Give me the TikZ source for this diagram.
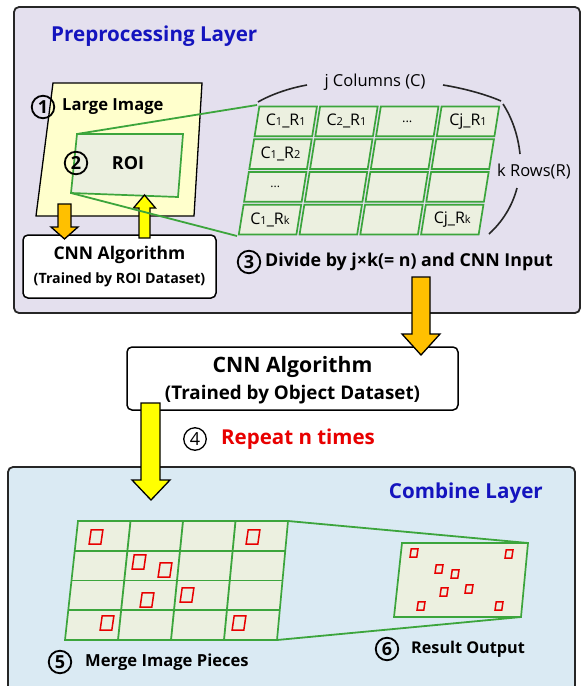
\documentclass[tikz,border=0pt]{standalone}
\usepackage{fontspec}
\setmainfont{Open Sans}
\definecolor{lav}{RGB}{228,224,238}
\definecolor{lblue}{RGB}{218,234,243}
\definecolor{ttl}{RGB}{20,20,190}
\definecolor{yell}{RGB}{255,255,204}
\definecolor{grn}{RGB}{60,165,60}
\definecolor{cellf}{RGB}{236,240,224}
\definecolor{orng}{RGB}{255,192,0}
\definecolor{yarr}{RGB}{255,255,0}
\definecolor{redc}{RGB}{232,0,0}
\newcommand{\fsz}[1]{\fontsize{#1}{#1}\selectfont}
\newcommand{\sm}[1]{{\fsz{11}#1}}
\newcommand{\rsq}[3]{\draw[redbox] ({#1-#3*0.45+#3*0.08},{#2-#3*0.55}) -- ({#1+#3*0.45+#3*0.08},{#2-#3*0.55}) -- ({#1+#3*0.45-#3*0.08},{#2+#3*0.55}) -- ({#1-#3*0.45-#3*0.08},{#2+#3*0.55}) -- cycle;}
\tikzset{
  panel/.style={draw=black!85, line width=1.8pt, rounded corners=5pt},
  cellst/.style={draw=grn, fill=cellf, line width=1.7pt},
  gline/.style={draw=grn, line width=1.8pt},
  gl/.style={font=\fsz{16}, inner sep=0pt},
  cnum/.style={circle, draw, line width=1.8pt, inner sep=0pt, minimum size=22.5pt, font=\bfseries\fsz{18}},
  cnumthin/.style={circle, draw, line width=1.3pt, inner sep=0pt, minimum size=22.5pt, font=\fsz{18}},
  btxt/.style={font=\bfseries\fsz{16.6}, inner sep=0pt},
  cbox/.style={draw=black, line width=1.5pt, fill=white, rounded corners=5pt, align=center, inner sep=0pt},
  barr/.style={draw=black, line width=1.3pt},
  redbox/.style={draw=redc, line width=1.5pt},
  brace/.style={draw=black!85, line width=1.6pt},
}
\begin{document}
\begin{tikzpicture}[x=1pt,y=-1pt]
\useasboundingbox (0,0) rectangle (581,686);
\fill[white] (0,0) rectangle (581,686);
\begin{scope}
\clip (0,0) rectangle (581,686);
% panels
\draw[panel, fill=lav] (14,7) rectangle (580,313);
\draw[panel, fill=lblue] (8,467) rectangle (575,695);
\end{scope}
\node[anchor=west, text=ttl, font=\bfseries\fsz{20.6}, inner sep=0pt] (title1) at (51,36) {Preprocessing Layer};
\node[anchor=east, text=ttl, font=\bfseries\fsz{20.6}, inner sep=0pt] (title2) at (543,493) {Combine Layer};

% large image and ROI
\draw[barr, fill=yell] (53,83) -- (202,83) -- (194,216) -- (36,216) -- cycle;
\draw[cellst] (77,134) -- (183,134) -- (178,197) -- (71,193) -- cycle;
\node[cnum] (n1) at (43,107) {1};
\node[btxt, anchor=west] (large) at (62,107) {Large Image};
\node[cnum] (n2) at (76,163) {2};
\node[btxt, font=\bfseries\fsz{18}] (roi) at (128,163) {ROI};

% CNN box 1
\node[cbox, minimum width=193pt, minimum height=63pt] (box1) at (119.5,266.5) {};
\node[btxt, font=\bfseries\fsz{17.5}] (box1a) at (119.5,255) {CNN Algorithm};
\node[font=\bfseries\fsz{14.2}, inner sep=0pt] (box1b) at (119.5,280) {(Trained by ROI Dataset)};
% small arrows
\draw[barr, fill=orng] (58,204) -- (71,204) -- (71,227) -- (78,227) -- (64.5,239) -- (51,227) -- (58,227) -- cycle;
\draw[barr, fill=yarr] (139,238) -- (150,238) -- (150,208) -- (155.5,208) -- (144.5,195) -- (133.5,208) -- (139,208) -- cycle;

% grid
\foreach \i in {0,1,2,3}{\foreach \j in {0,1,2,3}{
  \pgfmathsetmacro\ua{\i/4+0.0065}
  \pgfmathsetmacro\ub{(\i+1)/4-0.0065}
  \pgfmathsetmacro\va{\j/4+0.012}
  \pgfmathsetmacro\vb{(\j+1)/4-0.012}
  \draw[cellst] ({258+243*\ua-21*\va},{105+131*\va}) -- ({258+243*\ub-21*\va},{105+131*\va}) -- ({258+243*\ub-21*\vb},{105+131*\vb}) -- ({258+243*\ua-21*\vb},{105+131*\vb}) -- cycle;
  \coordinate (g\i\j) at ({258+243*(\i+0.5)/4-21*(\j+0.5)/4},{105+131*(\j+0.5)/4});
}}
\coordinate (gTL) at (257,105);
\coordinate (gBL) at (237,236);
\coordinate (roiTL) at (77,134);
\coordinate (roiBL) at (71,193);
\draw[gline] (roiTL) -- (gTL);
\draw[gline] (roiBL) -- (gBL);

\node[gl] (l00) at (g00) {C\sm{1}\_R\sm{1}};
\node[gl] (l10) at (g10) {C\sm{2}\_R\sm{1}};
\node[gl, font=\fsz{13}] (l20) at (g20) {...};
\node[gl] (l30) at (g30) {Cj\_R\sm{1}};
\node[gl] (l01) at (g01) {C\sm{1}\_R\sm{2}};
\node[gl, font=\fsz{12}] (l02) at (g02) {...};
\node[gl] (l03) at (g03) {C\sm{1}\_R\sm{k}};
\node[gl] (l33) at (g33) {Cj\_R\sm{k}};

% braces
\node[gl, font=\fsz{16.5}] (jcol) at (375,82) {j Columns (C)};
\node[gl, font=\fsz{16.5}, anchor=west] (krow) at (497,172) {k Rows(R)};
\draw[brace] (258,102) .. controls (272,94) and (290,88) .. (307,85);
\draw[brace] (443,85) .. controls (462,88) and (485,94) .. (501,101);
\draw[brace] (503,104) .. controls (512,118) and (518,135) .. (520,154);
\draw[brace] (517,188) .. controls (512,207) and (502,222) .. (489,234);

% step 3
\node[cnum] (n3) at (249,262) {3};
\node[font=\bfseries\fsz{17.8}, anchor=west, inner sep=0pt] (divide) at (265,262) {Divide by j×k(= n) and CNN Input};

% CNN box 2
\node[cbox, minimum width=331pt, minimum height=63pt] (box2) at (292.5,378.5) {};
\node[font=\bfseries\fsz{21.2}, inner sep=0pt] (box2a) at (292.5,367) {CNN Algorithm};
\node[font=\bfseries\fsz{18.8}, inner sep=0pt] (box2b) at (292.5,395) {(Trained by Object Dataset)};

% big arrows
\draw[barr, fill=orng] (412,277) -- (430,277) -- (430,334) -- (440,334) -- (421,355) -- (402,334) -- (412,334) -- cycle;
\draw[barr, fill=yarr] (141,403) -- (160,403) -- (160,480) -- (170,480) -- (151,500) -- (132,480) -- (141,480) -- cycle;

% step 4
\node[cnumthin] (n4) at (195,439) {4};
\node[font=\bfseries\fsz{20.5}, text=redc, anchor=west, inner sep=0pt] (repeat) at (221,439) {Repeat n times};

% merged grid
\draw[gline] (288,521) -- (528,543);
\draw[gline] (277,640) -- (521,617);
\draw[cellst] (78,521) -- (288,521) -- (277,640) -- (65,640) -- cycle;
\foreach \v in {0.25,0.5,0.75}{
  \draw[gline] ({78-13*\v},{521+119*\v}) -- ({288-11*\v},{521+119*\v});
}
\foreach \u in {0.25,0.5,0.75}{
  \draw[gline] ({78+210*\u},521) -- ({65+212*\u},640);
}
\rsq{96}{537}{13}
\rsq{253}{537}{13}
\rsq{139}{562}{13}
\rsq{165}{570}{13}
\rsq{147}{600}{13}
\rsq{187}{595}{13}
\rsq{107}{623}{13}
\rsq{239}{623}{13}

% result
\draw[cellst] (402,543) -- (528,543) -- (521,617) -- (394,617) -- cycle;
\rsq{414}{553}{7.5}
\rsq{509}{554}{7.5}
\rsq{439}{569}{7.5}
\rsq{455}{574}{7.5}
\rsq{444}{592}{7.5}
\rsq{469}{589}{7.5}
\rsq{421}{606}{7.5}
\rsq{499}{606}{7.5}

\node[cnum] (n5) at (60,662) {5};
\node[btxt, anchor=west] (merge) at (85,662) {Merge Image Pieces};
\node[cnum] (n6) at (387,649) {6};
\node[btxt, font=\bfseries\fsz{16.2}, anchor=west] (result) at (411,649) {Result Output};
\end{tikzpicture}
\end{document}
